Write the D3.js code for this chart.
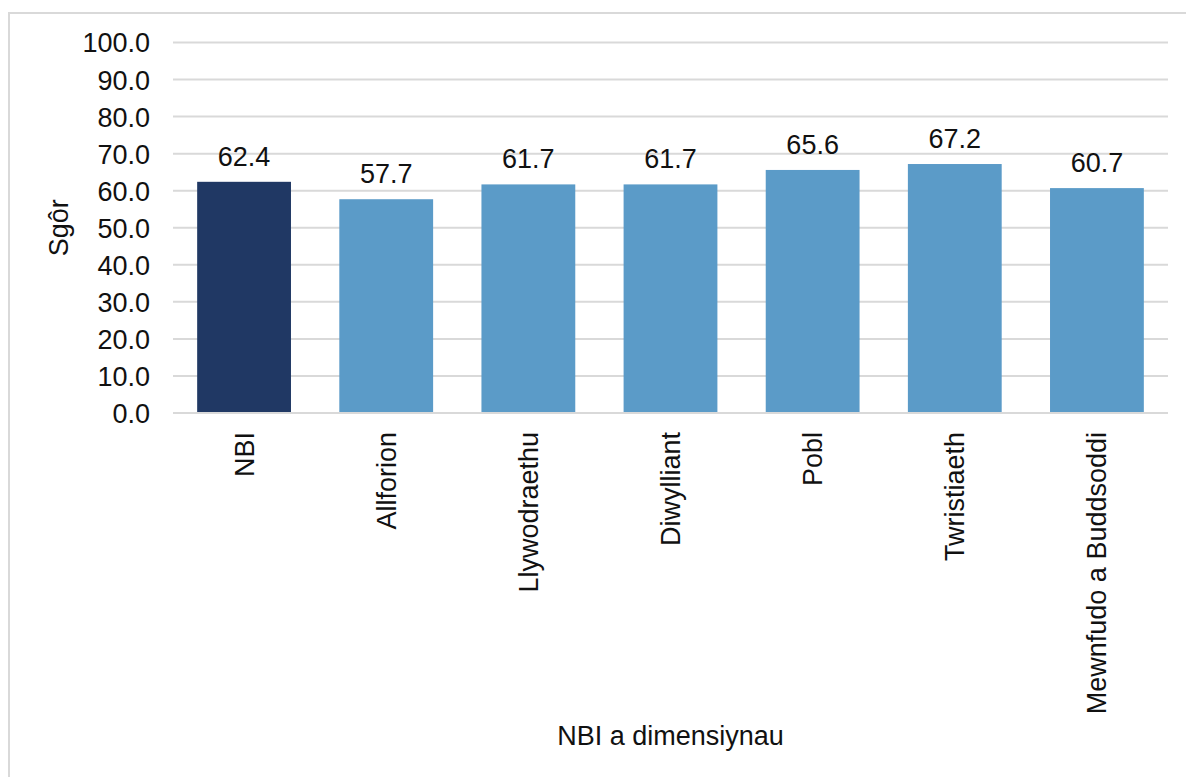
<!DOCTYPE html>
<html>
<head>
<meta charset="utf-8">
<script src="https://cdn.jsdelivr.net/npm/d3@7"></script>
<style>
  html, body { margin: 0; padding: 0; background: #fff; }
  svg { display: block; }
  text { font-family: "Liberation Sans", Arial, sans-serif; fill: #111; }
</style>
</head>
<body>
<svg id="chart" width="1186" height="777"></svg>
<script>
const categories = ["NBI", "Allforion", "Llywodraethu", "Diwylliant", "Pobl", "Twristiaeth", "Mewnfudo a Buddsoddi"];
const values = [62.4, 57.7, 61.7, 61.7, 65.6, 67.2, 60.7];
const yTicks = [0, 10, 20, 30, 40, 50, 60, 70, 80, 90, 100];
const yTitle = "Sgôr";
const xTitle = "NBI a dimensiynau";
const highlight = "NBI";

const W = 1186, H = 777;
const plot = { left: 173, right: 1168, top: 42.5, bottom: 413 };
const fs = 27;

const svg = d3.select("#chart");

// outer chart border (right/bottom edges fall outside the picture)
svg.append("rect")
  .attr("x", 9).attr("y", 13)
  .attr("width", W + 20).attr("height", H + 20)
  .attr("fill", "none").attr("stroke", "#d9d9d9").attr("stroke-width", 2);

const x = d3.scaleBand()
  .domain(categories)
  .range([plot.left, plot.right])
  .paddingInner(0.34)
  .paddingOuter(0.17);

const y = d3.scaleLinear()
  .domain([0, 100])
  .range([plot.bottom, plot.top]);

// gridlines
svg.append("g")
  .selectAll("line")
  .data(yTicks)
  .join("line")
  .attr("x1", plot.left).attr("x2", plot.right)
  .attr("y1", d => y(d)).attr("y2", d => y(d))
  .attr("stroke", "#d9d9d9").attr("stroke-width", 2);

// y axis tick labels
const yAxis = d3.axisLeft(y).tickValues(yTicks).tickFormat(d3.format(".1f")).tickSize(0).tickPadding(0);
const gy = svg.append("g").attr("transform", `translate(150,0)`).call(yAxis);
gy.select(".domain").remove();
gy.selectAll("text")
  .attr("font-size", fs)
  .attr("font-family", "Liberation Sans, Arial, sans-serif")
  .attr("fill", "#111")
  .attr("dy", "0.35em");

// bars
svg.append("g")
  .selectAll("rect")
  .data(categories)
  .join("rect")
  .attr("x", d => x(d))
  .attr("width", x.bandwidth())
  .attr("y", (d, i) => y(values[i]))
  .attr("height", (d, i) => y(0) - y(values[i]))
  .attr("fill", d => d === highlight ? "#203864" : "#5b9bc8");

// x axis baseline
svg.append("line")
  .attr("x1", plot.left).attr("x2", plot.right)
  .attr("y1", y(0)).attr("y2", y(0))
  .attr("stroke", "#d9d9d9").attr("stroke-width", 2);

// data labels
svg.append("g")
  .selectAll("text")
  .data(categories)
  .join("text")
  .attr("x", d => x(d) + x.bandwidth() / 2)
  .attr("y", (d, i) => y(values[i]) - 16)
  .attr("text-anchor", "middle")
  .attr("font-size", fs)
  .text((d, i) => d3.format(".1f")(values[i]));

// x axis category labels (rotated)
const xAxis = d3.axisBottom(x).tickSize(0).tickPadding(0);
const gx = svg.append("g").attr("transform", `translate(0,${y(0)})`).call(xAxis);
gx.select(".domain").remove();
gx.selectAll("text")
  .attr("font-size", fs)
  .attr("font-family", "Liberation Sans, Arial, sans-serif")
  .attr("fill", "#111")
  .attr("transform", "rotate(-90)")
  .attr("text-anchor", "end")
  .attr("x", -19)
  .attr("y", 0)
  .attr("dy", "0.35em");

// axis titles
svg.append("text")
  .attr("transform", `translate(68,${(plot.top + plot.bottom) / 2}) rotate(-90)`)
  .attr("text-anchor", "middle")
  .attr("font-size", fs)
  .text(yTitle);

svg.append("text")
  .attr("x", (plot.left + plot.right) / 2)
  .attr("y", 745)
  .attr("text-anchor", "middle")
  .attr("font-size", fs)
  .text(xTitle);
</script>
</body>
</html>
